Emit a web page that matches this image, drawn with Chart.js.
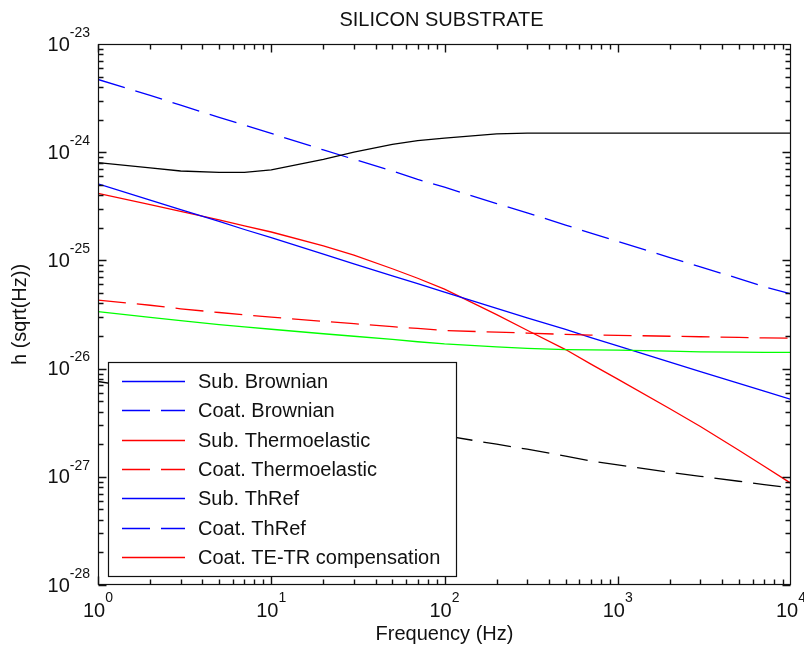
<!DOCTYPE html>
<html>
<head>
<meta charset="utf-8">
<script src="https://cdn.jsdelivr.net/npm/chart.js@4.4.0/dist/chart.umd.min.js"></script>
<style>
  body { margin: 0; background: #fff; }
</style>
</head>
<body>
<canvas id="chart" width="804" height="652"></canvas>
<script>
const freq = [1, 2, 3, 5, 7, 10, 20, 30, 50, 70, 100, 200, 300, 500, 700, 1000, 2000, 3000, 5000, 7000, 10000];

// Noise curves, h in 1/sqrt(Hz)
const blueSolid = [5.1e-25, 3.6e-25, 2.95e-25, 2.3e-25, 1.93e-25, 1.62e-25, 1.14e-25, 9.3e-26, 7.2e-26, 6.1e-26, 5.1e-26,
  3.6e-26, 2.95e-26, 2.3e-26, 1.93e-26, 1.62e-26, 1.15e-26, 9.4e-27, 7.3e-27, 6.2e-27, 5.2e-27];
const blueDashed = [4.7e-24, 3.35e-24, 2.72e-24, 2.1e-24, 1.78e-24, 1.49e-24, 1.05e-24, 8.6e-25, 6.7e-25, 5.6e-25, 4.75e-25,
  3.35e-25, 2.75e-25, 2.12e-25, 1.79e-25, 1.5e-25, 1.06e-25, 8.7e-26, 6.8e-26, 5.7e-26, 4.9e-26];
const redSolid = [4.17e-25, 3.27e-25, 2.84e-25, 2.37e-25, 2.09e-25, 1.83e-25, 1.36e-25, 1.12e-25, 8.37e-26, 6.84e-26, 5.43e-26,
  3.15e-26, 2.26e-26, 1.5e-26, 1.1e-26, 8.0e-27, 4.25e-27, 2.92e-27, 1.76e-27, 1.25e-27, 8.7e-28];
const redDashed = [4.3e-26, 3.85e-26, 3.57e-26, 3.3e-26, 3.14e-26, 2.99e-26, 2.73e-26, 2.6e-26, 2.44e-26, 2.35e-26, 2.25e-26,
  2.17e-26, 2.13e-26, 2.07e-26, 2.04e-26, 2.03e-26, 1.99e-26, 1.97e-26, 1.94e-26, 1.92e-26, 1.91e-26];
const greenSolid = [3.36e-26, 2.97e-26, 2.77e-26, 2.55e-26, 2.43e-26, 2.31e-26, 2.1e-26, 1.99e-26, 1.86e-26, 1.77e-26, 1.69e-26,
  1.59e-26, 1.54e-26, 1.5e-26, 1.49e-26, 1.48e-26, 1.45e-26, 1.43e-26, 1.42e-26, 1.41e-26, 1.41e-26];
const blackSolid = [8.0e-25, 7.15e-25, 6.7e-25, 6.5e-25, 6.5e-25, 6.85e-25, 8.6e-25, 1.0e-24, 1.18e-24, 1.28e-24, 1.35e-24,
  1.48e-24, 1.5e-24, 1.5e-24, 1.5e-24, 1.5e-24, 1.5e-24, 1.5e-24, 1.5e-24, 1.5e-24, 1.5e-24];
const blackDashed = [7.6e-27, 6.4e-27, 5.8e-27, 5.1e-27, 4.65e-27, 4.3e-27, 3.6e-27, 3.25e-27, 2.85e-27, 2.6e-27, 2.4e-27,
  2.0e-27, 1.8e-27, 1.55e-27, 1.4e-27, 1.29e-27, 1.1e-27, 1.01e-27, 9.1e-28, 8.45e-28, 7.9e-28];

// Legend texts (as they appear in the figure)
const legendLabels = ['Sub. Brownian', 'Coat. Brownian', 'Sub. Thermoelastic', 'Coat. Thermoelastic',
  'Sub. ThRef', 'Coat. ThRef', 'Coat. TE-TR compensation'];

// Decade ticks and their exponent labels
const xTickValues = [1, 10, 100, 1000, 10000];
const xTickExps = ['0', '1', '2', '3', '4'];
const yTickValues = [1e-23, 1e-24, 1e-25, 1e-26, 1e-27, 1e-28];
const yTickExps = ['-23', '-24', '-25', '-26', '-27', '-28'];

const FONT = '"Liberation Sans", Arial, Helvetica, sans-serif';
const DASH = [28, 11];

// legend sample styles (the figure's legend keys)
const legendColors = ['#0000ff', '#0000ff', '#ff0000', '#ff0000', '#0000ff', '#0000ff', '#ff0000'];
const legendDashed = [false, true, false, true, false, true, false];

function line(label, values, color, dashed) {
  return {
    label: label,
    data: freq.map((f, i) => ({ x: f, y: values[i] })),
    borderColor: color,
    borderWidth: 1.3,
    borderDash: dashed ? DASH : [],
    pointRadius: 0,
    tension: 0,
    fill: false
  };
}

const datasets = [
  line('black', blackSolid, '#000000', false),
  line('blue dashed', blueDashed, '#0000ff', true),
  line('green', greenSolid, '#00ff00', false),
  line('red dashed', redDashed, '#ff0000', true),
  line('blue', blueSolid, '#0000ff', false),
  line('red', redSolid, '#ff0000', false),
  line('black dashed', blackDashed, '#000000', true)
];

// Draws MATLAB-like box axes, ticks, labels and the legend
const matlabAxes = {
  id: 'matlabAxes',
  afterDraw(chart) {
    const ctx = chart.ctx;
    const a = chart.chartArea;
    const xs = chart.scales.x;
    const ys = chart.scales.y;
    const L = Math.round(a.left) + 0.5, R = Math.round(a.right) - 0.5;
    const T = Math.round(a.top) + 0.5, B = Math.round(a.bottom) - 0.5;
    ctx.save();
    ctx.setLineDash([]);

    // ticks, pointing inside, on all four sides
    ctx.strokeStyle = '#111';
    ctx.lineWidth = 1.4;
    for (let e = 0; e < 4; e++) {
      for (let m = 1; m <= 9; m++) {
        const px = Math.round(xs.getPixelForValue(m * Math.pow(10, e))) + 0.5;
        const len = m === 1 ? 8 : 5;
        ctx.beginPath();
        ctx.moveTo(px, B); ctx.lineTo(px, B - len);
        ctx.moveTo(px, T); ctx.lineTo(px, T + len);
        ctx.stroke();
      }
    }
    for (let e = -28; e < -23; e++) {
      for (let m = 1; m <= 9; m++) {
        const py = Math.round(ys.getPixelForValue(m * Math.pow(10, e))) + 0.5;
        const len = m === 1 ? 8 : 5;
        ctx.beginPath();
        ctx.moveTo(L, py); ctx.lineTo(L + len, py);
        ctx.moveTo(R, py); ctx.lineTo(R - len, py);
        ctx.stroke();
      }
    }
    ctx.lineWidth = 1.2;
    ctx.strokeRect(L, T, R - L, B - T);

    // legend
    const lx = 108.5, ly = 362.5, lw = 348, lh = 214;
    ctx.fillStyle = '#fff';
    ctx.fillRect(lx, ly, lw, lh);
    ctx.strokeRect(lx, ly, lw, lh);
    ctx.font = '20px ' + FONT;
    ctx.textBaseline = 'middle';
    ctx.textAlign = 'left';
    legendLabels.forEach((txt, i) => {
      const yy = Math.round(381 + i * 29.3) + 0.5;
      ctx.strokeStyle = legendColors[i];
      ctx.lineWidth = 1.3;
      ctx.setLineDash(legendDashed[i] ? DASH : []);
      ctx.beginPath();
      ctx.moveTo(122, yy); ctx.lineTo(185, yy);
      ctx.stroke();
      ctx.fillStyle = '#111';
      ctx.fillText(txt, 198, yy + 1);
    });
    ctx.setLineDash([]);

    // tick labels 10^n
    ctx.fillStyle = '#111';
    xTickValues.forEach((v, i) => {
      const px = xs.getPixelForValue(v);
      ctx.font = '20px ' + FONT;
      const w10 = ctx.measureText('10').width;
      ctx.font = '14px ' + FONT;
      const ws = ctx.measureText(xTickExps[i]).width;
      const x0 = px - (w10 + ws) / 2;
      ctx.font = '20px ' + FONT;
      ctx.fillText('10', x0, 611);
      ctx.font = '14px ' + FONT;
      ctx.fillText(xTickExps[i], x0 + w10, 598);
    });
    yTickValues.forEach((v, i) => {
      const py = ys.getPixelForValue(v);
      ctx.font = '14px ' + FONT;
      const ws = ctx.measureText(yTickExps[i]).width;
      ctx.font = '20px ' + FONT;
      const w10 = ctx.measureText('10').width;
      const x0 = 90 - ws - w10;
      ctx.fillText('10', x0, py + 1);
      ctx.font = '14px ' + FONT;
      ctx.fillText(yTickExps[i], x0 + w10, py - 11);
    });

    // titles
    ctx.font = '20px ' + FONT;
    ctx.textAlign = 'center';
    ctx.fillText('SILICON SUBSTRATE', (a.left + a.right) / 2 - 3, 20);
    ctx.fillText('Frequency (Hz)', (a.left + a.right) / 2, 634);
    ctx.translate(20, (a.top + a.bottom) / 2);
    ctx.rotate(-Math.PI / 2);
    ctx.fillText('h (sqrt(Hz))', 0, 0);
    ctx.restore();
  }
};

const ctx = document.getElementById('chart').getContext('2d');
new Chart(ctx, {
  type: 'line',
  data: { datasets: datasets },
  options: {
    responsive: false,
    animation: false,
    layout: { padding: { left: 98, top: 44, right: 13, bottom: 67 } },
    plugins: { legend: { display: false }, title: { display: false }, tooltip: { enabled: false } },
    scales: {
      x: { type: 'logarithmic', min: 1, max: 10000, display: false },
      y: { type: 'logarithmic', min: 1e-28, max: 1e-23, display: false }
    }
  },
  plugins: [matlabAxes]
});
</script>
</body>
</html>
